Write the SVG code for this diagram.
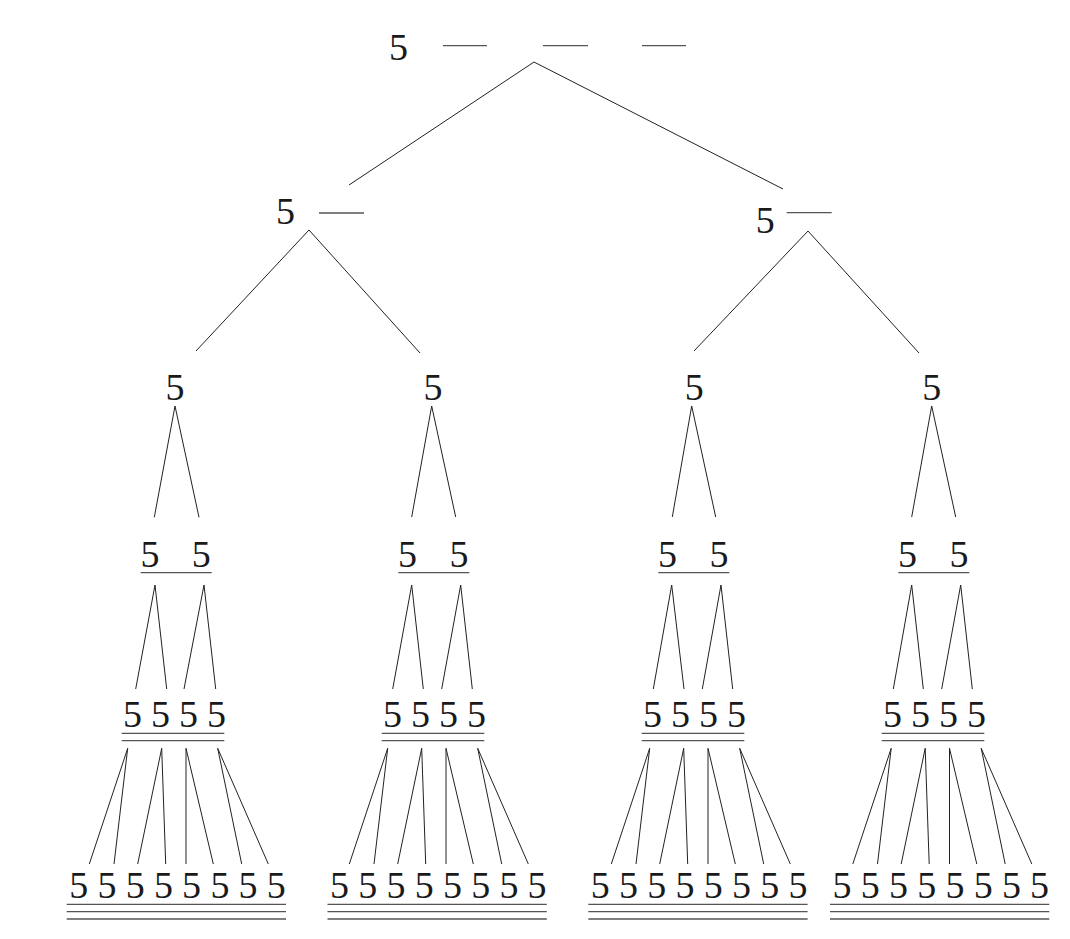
<svg xmlns="http://www.w3.org/2000/svg" width="1070" height="939" viewBox="0 0 1070 939">
<style>
.t{font-family:"Liberation Serif","Times New Roman",serif;font-size:38px;fill:#1a1a1a;text-anchor:middle}
.u{stroke:#555;stroke-width:1.3;fill:none}
.c{stroke:#222;stroke-width:1;fill:none}
</style>
<rect width="1070" height="939" fill="#fff"/>
<g id="connectors">
<path class="c" d="M534,62L349,185M534,62L783,189"/>
<path class="c" d="M309,230L196,351M309,230L420,353M808,231L694,351M808,231L919,353"/>
<path class="c" d="M175,406L154.3,517.3M175,406L199,517.3M431.7,406L411.7,517M431.7,406L455.7,517M691.7,406L672.3,517M691.7,406L715.7,517M931.7,406L911.7,517M931.7,406L955.7,517"/>
<path class="c" d="M155,585L135.7,689M155,585L166.7,689M204,585L184,689M204,585L215.7,689"/>
<path class="c" d="M411.7,585L392.7,689M411.7,585L423.3,689M460.7,585L441.7,689M460.7,585L472.3,689"/>
<path class="c" d="M671.7,585L653.3,689M671.7,585L684,689M721,585L702.3,689M721,585L732.7,689"/>
<path class="c" d="M911.7,585L893.3,689M911.7,585L923.3,689M960.7,585L941.7,689M960.7,585L972.3,689"/>
<path id="l56" class="c" d="M127.7,748.3L89.3,864M127.7,748.3L114,864M161.7,748.3L137.7,864M161.7,748.3L165.7,864M186,748.3L186,864M186,748.3L213.3,864M217.7,748.3L241.7,864M217.7,748.3L268.3,864"/>
<path class="c" transform="translate(260,0)" d="M127.7,748.3L89.3,864M127.7,748.3L114,864M161.7,748.3L137.7,864M161.7,748.3L165.7,864M186,748.3L186,864M186,748.3L213.3,864M217.7,748.3L241.7,864M217.7,748.3L268.3,864"/>
<path class="c" transform="translate(522,0)" d="M127.7,748.3L89.3,864M127.7,748.3L114,864M161.7,748.3L137.7,864M161.7,748.3L165.7,864M186,748.3L186,864M186,748.3L213.3,864M217.7,748.3L241.7,864M217.7,748.3L268.3,864"/>
<path class="c" transform="translate(763.5,0)" d="M127.7,748.3L89.3,864M127.7,748.3L114,864M161.7,748.3L137.7,864M161.7,748.3L165.7,864M186,748.3L186,864M186,748.3L213.3,864M217.7,748.3L241.7,864M217.7,748.3L268.3,864"/>
</g>
<g id="n1">
<text class="t" x="398.5" y="60">5</text>
<path class="u" d="M443,45.7H487M543,45.7H588M642,45.7H686"/>
</g>
<g id="n2a">
<text class="t" x="285.5" y="224">5</text>
<path class="u" d="M319,213H364"/>
</g>
<g id="n2b">
<text class="t" x="765.3" y="233">5</text>
<path class="u" d="M786.7,212.7H831.7"/>
</g>
<g id="n3a"><text class="t" x="175" y="400">5</text></g>
<g id="n3b"><text class="t" x="433" y="400">5</text></g>
<g id="n3c"><text class="t" x="694.3" y="400">5</text></g>
<g id="n3d"><text class="t" x="931.7" y="400">5</text></g>
<g id="n4a">
<text class="t" x="150" y="566.7">5</text><text class="t" x="201.3" y="566.7">5</text>
<path class="u" d="M140.7,572.7H211.7"/>
</g>
<g id="n4b" transform="translate(257.6,0)">
<text class="t" x="150" y="566.7">5</text><text class="t" x="201.3" y="566.7">5</text>
<path class="u" d="M140.7,572.7H211.7"/>
</g>
<g id="n4c" transform="translate(517.6,0)">
<text class="t" x="150" y="566.7">5</text><text class="t" x="201.3" y="566.7">5</text>
<path class="u" d="M140.7,572.7H211.7"/>
</g>
<g id="n4d" transform="translate(757.6,0)">
<text class="t" x="150" y="566.7">5</text><text class="t" x="201.3" y="566.7">5</text>
<path class="u" d="M140.7,572.7H211.7"/>
</g>
<g id="n5a">
<text class="t" x="132.5" y="726.7">5</text><text class="t" x="160.5" y="726.7">5</text><text class="t" x="188.5" y="726.7">5</text><text class="t" x="216.5" y="726.7">5</text>
<path class="u" d="M121.7,733.3H224.3M121.7,740.7H224.3"/>
</g>
<g id="n5b" transform="translate(260,0)">
<text class="t" x="132.5" y="726.7">5</text><text class="t" x="160.5" y="726.7">5</text><text class="t" x="188.5" y="726.7">5</text><text class="t" x="216.5" y="726.7">5</text>
<path class="u" d="M121.7,733.3H224.3M121.7,740.7H224.3"/>
</g>
<g id="n5c" transform="translate(520,0)">
<text class="t" x="132.5" y="726.7">5</text><text class="t" x="160.5" y="726.7">5</text><text class="t" x="188.5" y="726.7">5</text><text class="t" x="216.5" y="726.7">5</text>
<path class="u" d="M121.7,733.3H224.3M121.7,740.7H224.3"/>
</g>
<g id="n5d" transform="translate(760,0)">
<text class="t" x="132.5" y="726.7">5</text><text class="t" x="160.5" y="726.7">5</text><text class="t" x="188.5" y="726.7">5</text><text class="t" x="216.5" y="726.7">5</text>
<path class="u" d="M121.7,733.3H224.3M121.7,740.7H224.3"/>
</g>
<g id="n6a">
<text class="t" x="78.7" y="898.3">5</text><text class="t" x="106.9" y="898.3">5</text><text class="t" x="135.2" y="898.3">5</text><text class="t" x="163.4" y="898.3">5</text><text class="t" x="191.6" y="898.3">5</text><text class="t" x="219.9" y="898.3">5</text><text class="t" x="248.1" y="898.3">5</text><text class="t" x="276.3" y="898.3">5</text>
<path class="u" d="M66.7,904.3H286M66.7,911.7H286M66.7,919H286"/>
</g>
<g id="n6b" transform="translate(260.8,0)">
<text class="t" x="78.7" y="898.3">5</text><text class="t" x="106.9" y="898.3">5</text><text class="t" x="135.2" y="898.3">5</text><text class="t" x="163.4" y="898.3">5</text><text class="t" x="191.6" y="898.3">5</text><text class="t" x="219.9" y="898.3">5</text><text class="t" x="248.1" y="898.3">5</text><text class="t" x="276.3" y="898.3">5</text>
<path class="u" d="M66.7,904.3H286M66.7,911.7H286M66.7,919H286"/>
</g>
<g id="n6c" transform="translate(521.6,0)">
<text class="t" x="78.7" y="898.3">5</text><text class="t" x="106.9" y="898.3">5</text><text class="t" x="135.2" y="898.3">5</text><text class="t" x="163.4" y="898.3">5</text><text class="t" x="191.6" y="898.3">5</text><text class="t" x="219.9" y="898.3">5</text><text class="t" x="248.1" y="898.3">5</text><text class="t" x="276.3" y="898.3">5</text>
<path class="u" d="M66.7,904.3H286M66.7,911.7H286M66.7,919H286"/>
</g>
<g id="n6d" transform="translate(763.3,0)">
<text class="t" x="78.7" y="898.3">5</text><text class="t" x="106.9" y="898.3">5</text><text class="t" x="135.2" y="898.3">5</text><text class="t" x="163.4" y="898.3">5</text><text class="t" x="191.6" y="898.3">5</text><text class="t" x="219.9" y="898.3">5</text><text class="t" x="248.1" y="898.3">5</text><text class="t" x="276.3" y="898.3">5</text>
<path class="u" d="M66.7,904.3H286M66.7,911.7H286M66.7,919H286"/>
</g>
</svg>
